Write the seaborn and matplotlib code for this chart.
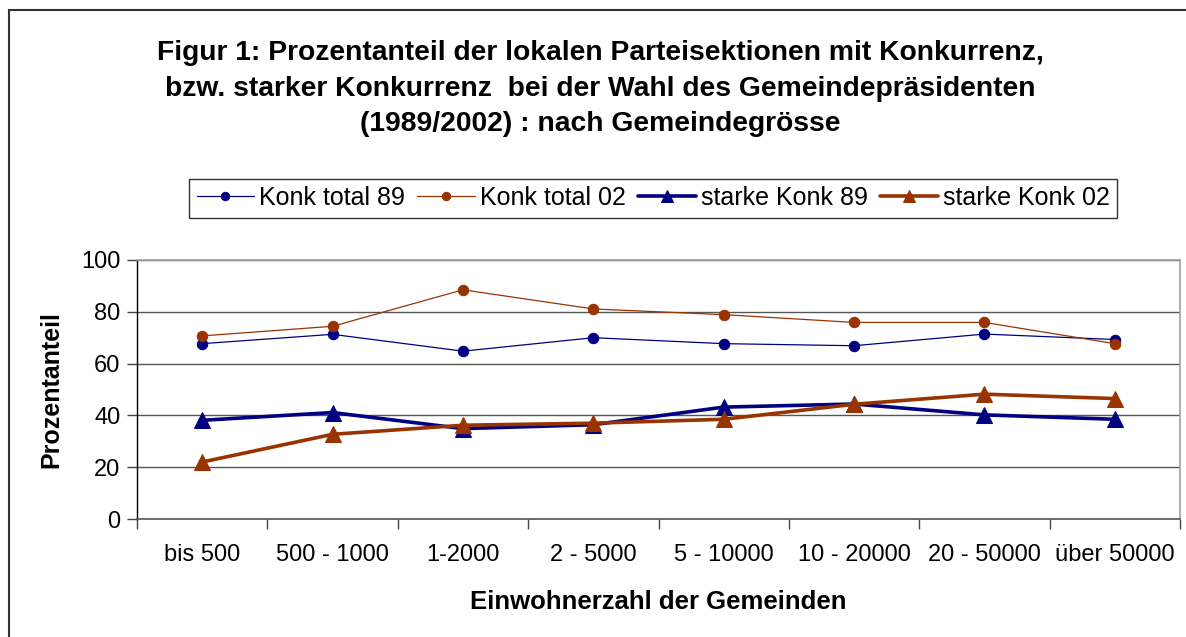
import matplotlib
matplotlib.use("Agg")
import matplotlib.pyplot as plt
import matplotlib.patches as mpatches
from matplotlib.ticker import FixedLocator
import numpy as np
import pandas as pd
import seaborn as sns

# Municipality size classes
categories = ["bis 500", "500 - 1000", "1-2000", "2 - 5000", "5 - 10000",
              "10 - 20000", "20 - 50000", "über 50000"]

# Share of local party sections (%) per size class
konk_total_89 = [67.7, 71.3, 64.8, 70.0, 67.7, 66.9, 71.4, 69.3]
konk_total_02 = [70.7, 74.4, 88.5, 81.1, 78.9, 75.9, 75.9, 67.7]
starke_konk_89 = [38.1, 41.1, 34.9, 36.4, 43.2, 44.4, 40.2, 38.5]
starke_konk_02 = [22.0, 32.7, 36.2, 37.0, 38.5, 44.3, 48.2, 46.5]

y_ticks = [0, 20, 40, 60, 80, 100]

title = ("Figur 1: Prozentanteil der lokalen Parteisektionen mit Konkurrenz,\n"
         "bzw. starker Konkurrenz  bei der Wahl des Gemeindepräsidenten\n"
         "(1989/2002) : nach Gemeindegrösse")

NAVY = "#000080"
BROWN = "#993300"

sns.set_theme(style="white")
plt.rcParams["font.family"] = ["Liberation Sans", "DejaVu Sans"]
plt.rcParams["text.color"] = "black"
plt.rcParams["axes.labelcolor"] = "black"
plt.rcParams["xtick.color"] = "black"
plt.rcParams["ytick.color"] = "black"

fig = plt.figure(figsize=(11.86, 6.37), dpi=100)
ax = fig.add_axes([137 / 1186, 1 - 519 / 637, (1180 - 137) / 1186, (519 - 260) / 637])

pos = np.arange(len(categories))
series = [
    ("Konk total 89", konk_total_89, NAVY, "o", 0.9, 7.5),
    ("Konk total 02", konk_total_02, BROWN, "o", 0.9, 7.5),
    ("starke Konk 89", starke_konk_89, NAVY, "^", 2.6, 11),
    ("starke Konk 02", starke_konk_02, BROWN, "^", 2.6, 11),
]
for name, vals, color, marker, lw, ms in series:
    df = pd.DataFrame({"pos": pos, "wert": vals})
    sns.lineplot(data=df, x="pos", y="wert", ax=ax, color=color, marker=marker,
                 linewidth=lw, markersize=ms, markeredgecolor=color,
                 label=name, zorder=3)

ax.set_xlim(-0.5, len(categories) - 0.5)
ax.set_ylim(0, 100)

# Category labels at centers, tick marks between categories
ax.xaxis.set_major_locator(FixedLocator(pos))
ax.set_xticklabels(categories)
ax.xaxis.set_minor_locator(FixedLocator(np.arange(-0.5, len(categories), 1.0)))
ax.tick_params(axis="x", which="major", length=0, labelsize=17, pad=18)
ax.tick_params(axis="x", which="minor", bottom=True, length=7, width=1, color="#444444")
ax.set_yticks(y_ticks)
ax.tick_params(axis="y", which="major", left=True, length=7, width=1, color="#444444",
               labelsize=17, pad=5)

ax.grid(axis="y", color="#555555", linewidth=1.0)
ax.grid(axis="x", visible=False)
ax.set_axisbelow(True)

for side in ["top", "right"]:
    ax.spines[side].set_color("#a0a0a0")
    ax.spines[side].set_linewidth(1.2)
ax.spines["left"].set_color("black")
ax.spines["left"].set_linewidth(1.0)
ax.spines["bottom"].set_color("#555555")
ax.spines["bottom"].set_linewidth(1.2)

ax.set_xlabel("Einwohnerzahl der Gemeinden", fontsize=18.5, fontweight="bold", labelpad=17)
ax.set_ylabel("Prozentanteil", fontsize=18, fontweight="bold", labelpad=13)

leg = ax.legend(loc="center", bbox_to_anchor=(653 / 1186, 1 - 198 / 637),
                bbox_transform=fig.transFigure, ncol=4, numpoints=1,
                fontsize=18, frameon=True, fancybox=False, handlelength=2.3,
                handletextpad=0.2, columnspacing=0.5, borderpad=0.3,
                markerscale=0.8)
leg.get_frame().set_edgecolor("black")
leg.get_frame().set_linewidth(1.0)

fig.text(600 / 1186, 1 - 88.5 / 637, title, ha="center", va="center",
         fontsize=20.3, fontweight="bold", linespacing=1.48)

# Outer chart frame
fig.patches.append(mpatches.Rectangle((9 / 1186, -0.2), 1.2, 1.2 - 10 / 637,
                                      transform=fig.transFigure, fill=False,
                                      edgecolor="#333333", linewidth=1.5))

fig.savefig("out.png", dpi=100)
